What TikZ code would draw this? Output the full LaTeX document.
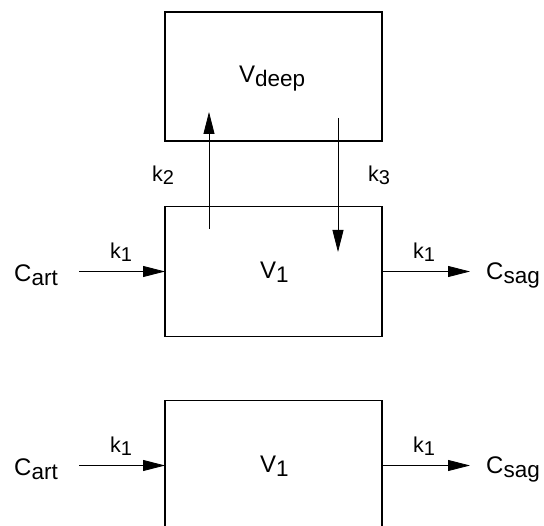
\documentclass[tikz,border=0pt]{standalone}
\usepackage{fontspec}
\setmainfont{Liberation Sans}
\usetikzlibrary{arrows.meta}
\newcommand{\lowsub}[1]{\raisebox{-4pt}{\fontsize{22.5}{22.5}\selectfont #1}}
\newcommand{\ksub}[1]{\raisebox{-3pt}{\fontsize{20}{20}\selectfont #1}}
\begin{document}
\begin{tikzpicture}[x=1pt,y=-1pt,
  box/.style={draw, line width=1.1pt, minimum width=217pt, minimum height=130pt, inner sep=0pt, outer sep=0pt},
  lbl/.style={inner sep=0pt, anchor=base west, font=\fontsize{24}{24}\selectfont},
  klbl/.style={inner sep=0pt, anchor=base west, font=\fontsize{21.5}{21.5}\selectfont},
  arr/.style={line width=0.8pt, -{Triangle[length=22pt,width=11pt]}}]
\useasboundingbox (0,0) rectangle (544,526);
\clip (0,0) rectangle (544,526);

% boxes
\node[box, minimum height=129pt] (deep) at (273.5,76.5) {};
\node[box] (mid) at (273.5,271.5) {};
\node[box] (bot) at (273.5,465.5) {};

% texts in boxes
\node[lbl] (tdeep) at (239,83) {V\lowsub{deep}};
\node[lbl] (tmid) at (260,279) {V\lowsub{1}};
\node[lbl] (tbot) at (260,473) {V\lowsub{1}};

% exchange arrows
\coordinate (u1) at (209,229);
\coordinate (u2) at (209,112);
\coordinate (d1) at (338,118);
\coordinate (d2) at (338,252);
\draw[arr] (u1) -- (u2);
\draw[arr] (d1) -- (d2);
\node[klbl] (k2) at (152,182) {k\ksub{2}};
\node[klbl] (k3) at (368,182) {k\ksub{3}};

% middle row
\node[lbl] (cart1) at (14,282) {C\lowsub{art}};
\node[lbl] (csag1) at (486,280) {C\lowsub{sag}};
\coordinate (in1) at (79,271.5);
\coordinate (out1) at (470,271.5);
\draw[arr] (in1) -- (mid.west);
\draw[arr] (mid.east) -- (out1);
\node[klbl] (kin1) at (110,259) {k\ksub{1}};
\node[klbl] (kout1) at (413,259) {k\ksub{1}};

% bottom row
\node[lbl] (cart2) at (14,476) {C\lowsub{art}};
\node[lbl] (csag2) at (486,474) {C\lowsub{sag}};
\coordinate (in2) at (79,465.5);
\coordinate (out2) at (470,465.5);
\draw[arr] (in2) -- (bot.west);
\draw[arr] (bot.east) -- (out2);
\node[klbl] (kin2) at (110,453) {k\ksub{1}};
\node[klbl] (kout2) at (413,453) {k\ksub{1}};
\end{tikzpicture}
\end{document}
